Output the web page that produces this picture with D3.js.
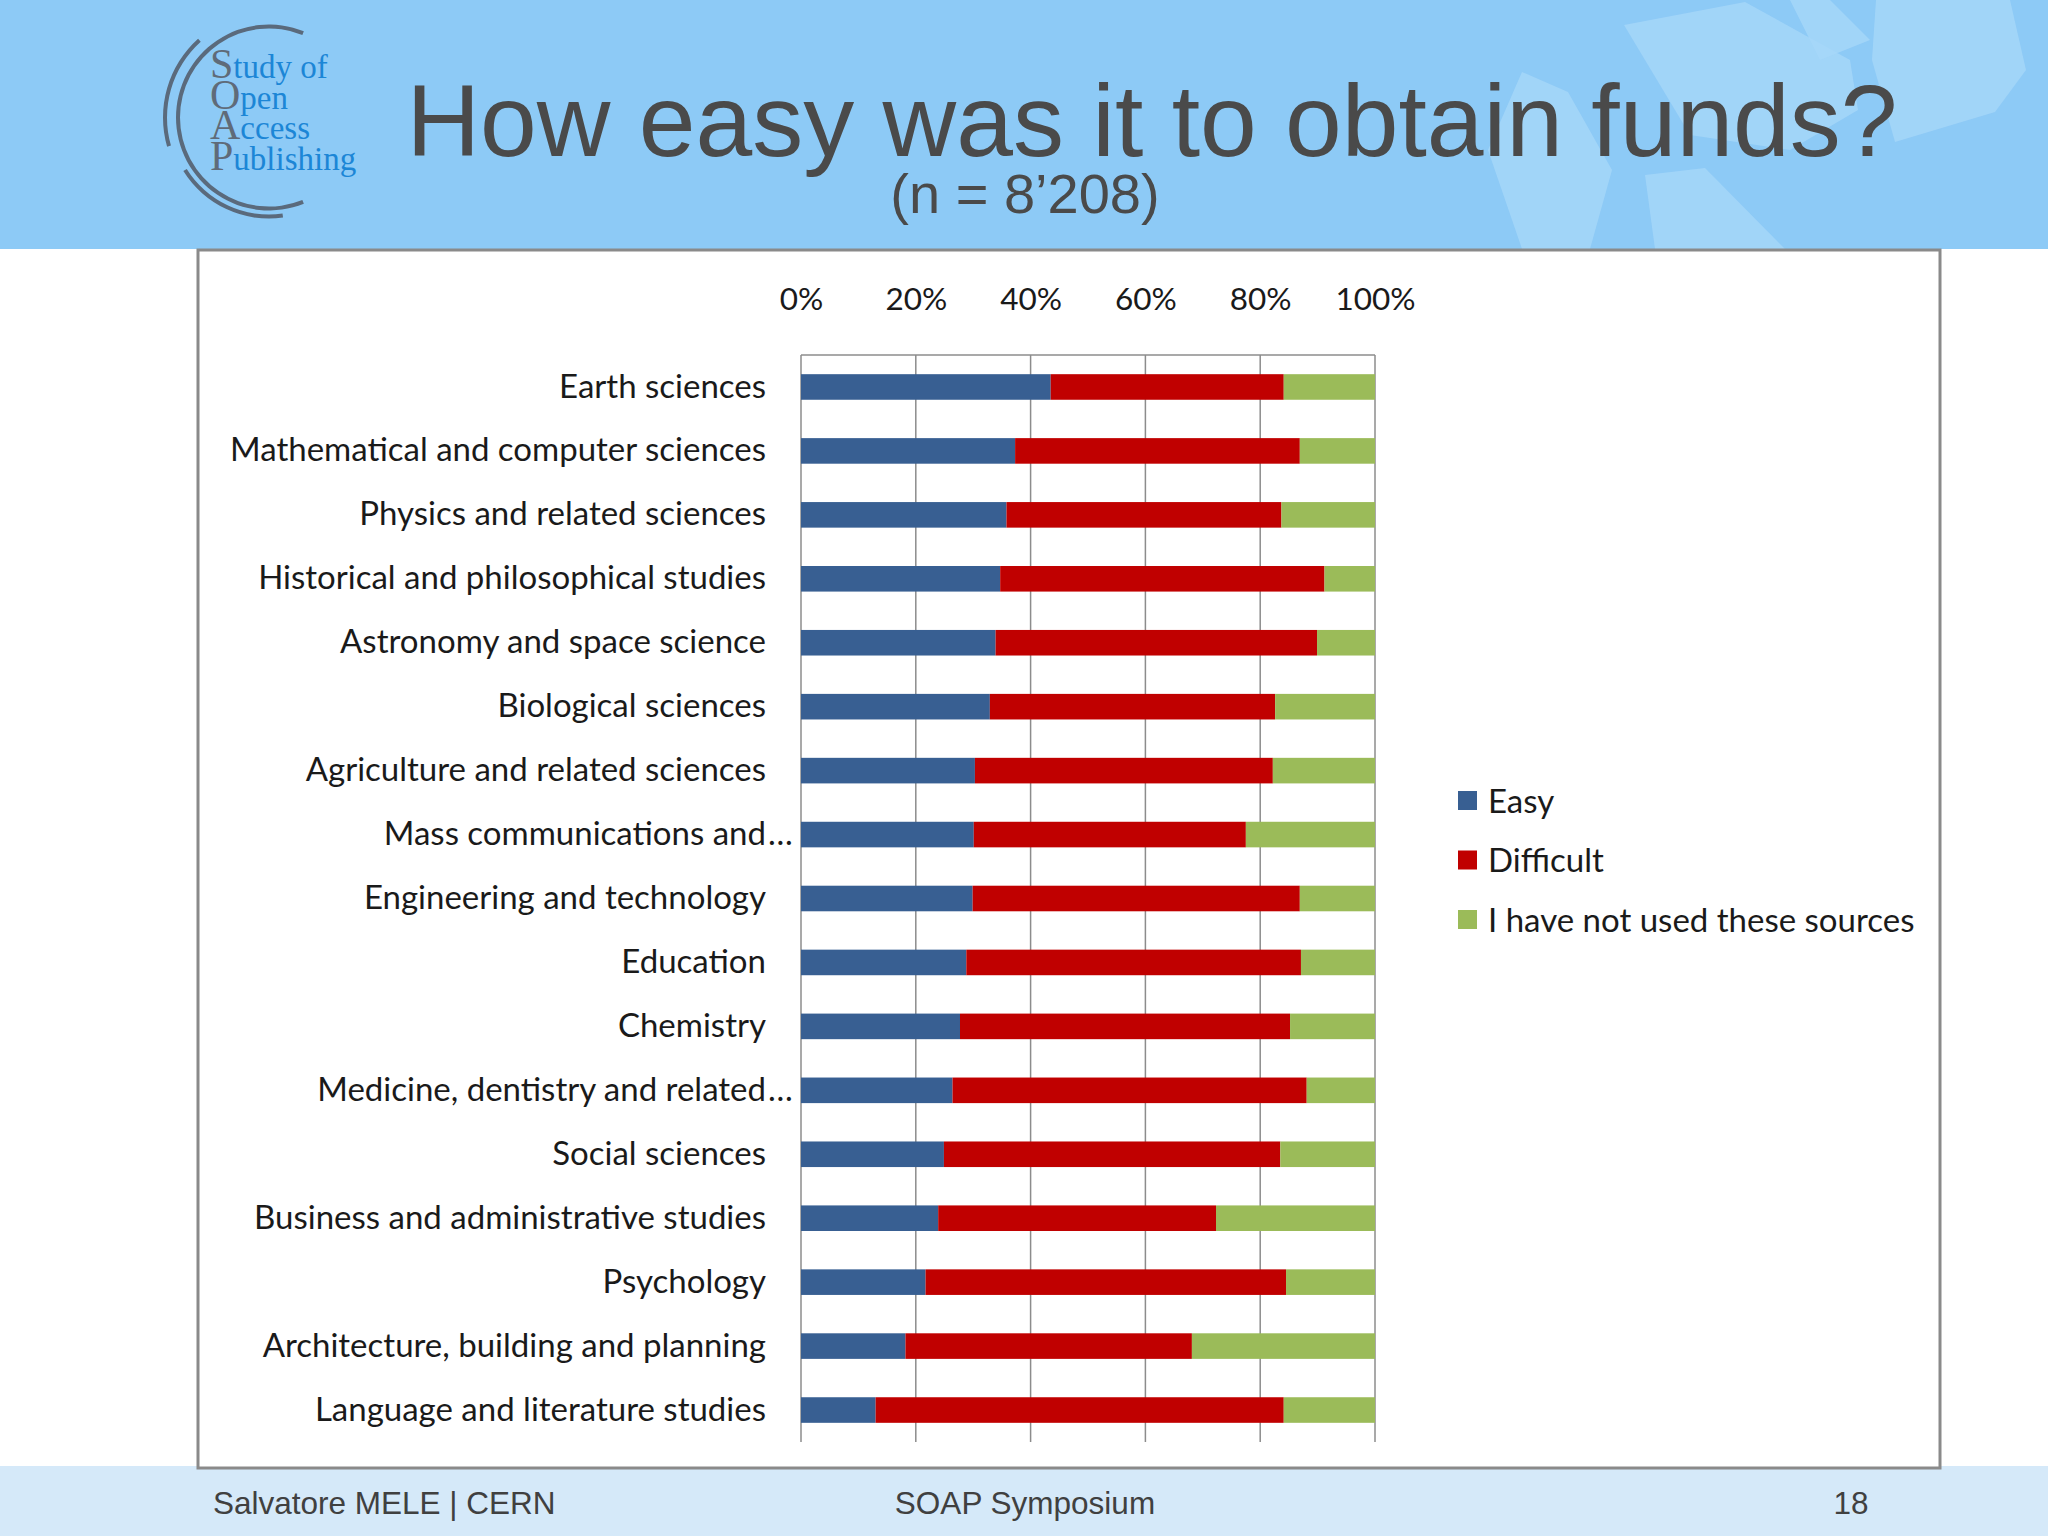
<!DOCTYPE html>
<html>
<head>
<meta charset="utf-8">
<script src="https://cdn.jsdelivr.net/npm/d3@7"></script>
<style>
  html, body { margin: 0; padding: 0; background: #ffffff; }
  svg { display: block; }
</style>
</head>
<body>
<svg id="chart" width="2048" height="1536"></svg>
<script>
// ---- data ----
const categories = [
  "Earth sciences",
  "Mathematical and computer sciences",
  "Physics and related sciences",
  "Historical and philosophical studies",
  "Astronomy and space science",
  "Biological sciences",
  "Agriculture and related sciences",
  "Mass communications and…",
  "Engineering and technology",
  "Education",
  "Chemistry",
  "Medicine, dentistry and related…",
  "Social sciences",
  "Business and administrative studies",
  "Psychology",
  "Architecture, building and planning",
  "Language and literature studies"
];
const easy      = [43.5, 37.3, 35.8, 34.7, 33.9, 32.9, 30.3, 30.1, 29.9, 28.8, 27.7, 26.4, 24.9, 23.9, 21.7, 18.2, 13.0];
const difficult = [40.6, 49.6, 47.9, 56.5, 56.0, 49.7, 51.9, 47.4, 57.0, 58.3, 57.5, 61.7, 58.6, 48.4, 62.8, 49.9, 71.1];
const notUsed   = [15.9, 13.1, 16.3,  8.8, 10.1, 17.4, 17.8, 22.5, 13.1, 12.9, 14.8, 11.9, 16.5, 27.7, 15.5, 31.9, 15.9];
const seriesNames = ["Easy", "Difficult", "I have not used these sources"];
const seriesColors = ["#385F92", "#C00000", "#9BBB59"];
const tickValues = [0, 20, 40, 60, 80, 100];
const title = "How easy was it to obtain funds?";
const subtitle = "(n = 8\u2019208)";
const footerLeft = "Salvatore MELE | CERN";
const footerCenter = "SOAP Symposium";
const footerRight = "18";
const logoLines = [["S", "tudy of"], ["O", "pen"], ["A", "ccess"], ["P", "ublishing"]];

// ---- drawing ----
const svg = d3.select("#chart");
const W = 2048, H = 1536;

// header band
svg.append("rect").attr("x", 0).attr("y", 0).attr("width", W).attr("height", 249).attr("fill", "#8DCAF6");
// decorative light "paper" shapes
const deco = [
  [[1624,25],[1745,2],[1850,60],[1858,110],[1790,150],[1690,135]],
  [[1876,0],[2010,0],[2026,70],[1995,112],[1895,142],[1872,60]],
  [[1522,72],[1568,92],[1612,170],[1590,249],[1522,249],[1488,150]],
  [[1645,175],[1705,168],[1785,249],[1655,249]],
  [[1790,0],[1830,0],[1870,40],[1820,60]]
];
svg.append("g").selectAll("path").data(deco).join("path")
  .attr("d", d => d3.line()(d) + "Z")
  .attr("fill", "#A6D7F9").attr("opacity", 0.8);

// footer band
svg.append("rect").attr("x", 0).attr("y", 1466).attr("width", W).attr("height", H - 1466).attr("fill", "#D5E9F9");

// logo arcs
const logo = svg.append("g").attr("transform", "translate(269,117.5)");
const deg = Math.PI / 180;
const arcs = [
  {r: 91, a0: 158, a1: 382},
  {r: 104, a0: 254, a1: 318},
  {r: 99, a0: 172, a1: 238}
];
logo.selectAll("path").data(arcs).join("path")
  .attr("d", d => d3.arc()({innerRadius: d.r - 2, outerRadius: d.r + 2, startAngle: d.a0 * deg, endAngle: d.a1 * deg}))
  .attr("fill", "#5A6A7C");
// logo words: one text element, one pair of tspans per line
const logoText = svg.append("text").attr("font-family", "'Liberation Serif', serif");
logoLines.forEach((ln, i) => {
  logoText.append("tspan").attr("x", 210).attr("y", 78 + i * 30.7)
    .attr("font-size", 42).attr("fill", "#5F6B79").text(ln[0]);
  logoText.append("tspan")
    .attr("font-size", 33).attr("fill", "#1C86D6").text(ln[1]);
});

// title
svg.append("text").attr("x", 1152).attr("y", 156)
  .attr("text-anchor", "middle").attr("font-family", "'Liberation Sans', Arial, sans-serif")
  .attr("font-size", 102).attr("fill", "#4A4A4A").text(title);
svg.append("text").attr("x", 1025).attr("y", 213)
  .attr("text-anchor", "middle").attr("font-family", "'Liberation Sans', Arial, sans-serif")
  .attr("font-size", 56).attr("fill", "#4A4A4A").text(subtitle);

// chart box
svg.append("rect").attr("x", 198).attr("y", 250).attr("width", 1742).attr("height", 1218)
  .attr("fill", "#ffffff").attr("stroke", "#8A8A8A").attr("stroke-width", 3);

// scales
const x0 = 801, x1 = 1375, yTop = 355, yBot = 1442;
const x = d3.scaleLinear().domain([0, 100]).range([x0, x1]);
const y = d3.scaleBand().domain(categories).range([yTop, yBot]).paddingInner(0.6).paddingOuter(0.3);

const labelFont = "Lato, 'Open Sans', sans-serif";
const labelSize = 33;

// gridlines
svg.append("g").selectAll("line").data(tickValues).join("line")
  .attr("x1", d => x(d)).attr("x2", d => x(d))
  .attr("y1", yTop).attr("y2", yBot)
  .attr("stroke", "#8C8C8C").attr("stroke-width", 1.5);
svg.append("line").attr("x1", x0).attr("x2", x1).attr("y1", yTop).attr("y2", yTop)
  .attr("stroke", "#8C8C8C").attr("stroke-width", 1.5);

// top axis labels
const topAxis = svg.append("g").attr("transform", `translate(0,${yTop})`)
  .call(d3.axisTop(x).tickValues(tickValues).tickFormat(d => d + "%").tickSize(0).tickPadding(45));
topAxis.select(".domain").remove();
topAxis.selectAll("text").attr("font-family", labelFont).attr("font-size", 31.5).attr("fill", "#1a1a1a");

// stacked bars
const rows = categories.map((c, i) => ({cat: c, vals: [easy[i], difficult[i], notUsed[i]]}));
const segs = [];
rows.forEach(r => {
  let acc = 0;
  r.vals.forEach((v, k) => { segs.push({cat: r.cat, k, s: acc, e: acc + v}); acc += v; });
});
svg.append("g").selectAll("rect").data(segs).join("rect")
  .attr("x", d => x(d.s)).attr("width", d => x(d.e) - x(d.s))
  .attr("y", d => y(d.cat)).attr("height", y.bandwidth())
  .attr("fill", d => seriesColors[d.k]);

// category labels
const leftAxis = svg.append("g").attr("transform", `translate(${x0},0)`)
  .call(d3.axisLeft(y).tickSize(0).tickPadding(35).tickFormat(d => d.endsWith("…") ? d.slice(0, -1) : d));
leftAxis.select(".domain").remove();
leftAxis.selectAll("text").attr("font-family", labelFont).attr("font-size", labelSize).attr("fill", "#1a1a1a");
leftAxis.selectAll(".tick").filter(d => d.endsWith("…")).append("text")
  .attr("x", -33).attr("dy", "0.32em").attr("text-anchor", "start")
  .attr("font-family", labelFont).attr("font-size", labelSize).attr("fill", "#1a1a1a").text("…");

// legend
const lg = svg.append("g").selectAll("g").data(seriesNames).join("g")
  .attr("transform", (d, i) => `translate(1458,${801 + i * 59.5})`);
lg.append("rect").attr("x", 0).attr("y", -10).attr("width", 19).attr("height", 19)
  .attr("fill", (d, i) => seriesColors[i]);
lg.append("text").attr("x", 30).attr("y", 0).attr("dy", "0.35em")
  .attr("font-family", labelFont).attr("font-size", labelSize).attr("fill", "#1a1a1a").text(d => d);

// footer
const footFont = "'Liberation Sans Narrow', 'Arial Narrow', 'Liberation Sans', sans-serif";
const footSize = 31.5;
svg.append("text").attr("x", 213).attr("y", 1514).attr("font-family", footFont)
  .attr("font-size", footSize).attr("fill", "#404040").text(footerLeft);
svg.append("text").attr("x", 1025).attr("y", 1514).attr("text-anchor", "middle").attr("font-family", footFont)
  .attr("font-size", footSize).attr("fill", "#404040").text(footerCenter);
svg.append("text").attr("x", 1851).attr("y", 1514).attr("text-anchor", "middle").attr("font-family", footFont)
  .attr("font-size", footSize).attr("fill", "#404040").text(footerRight);
</script>
</body>
</html>
